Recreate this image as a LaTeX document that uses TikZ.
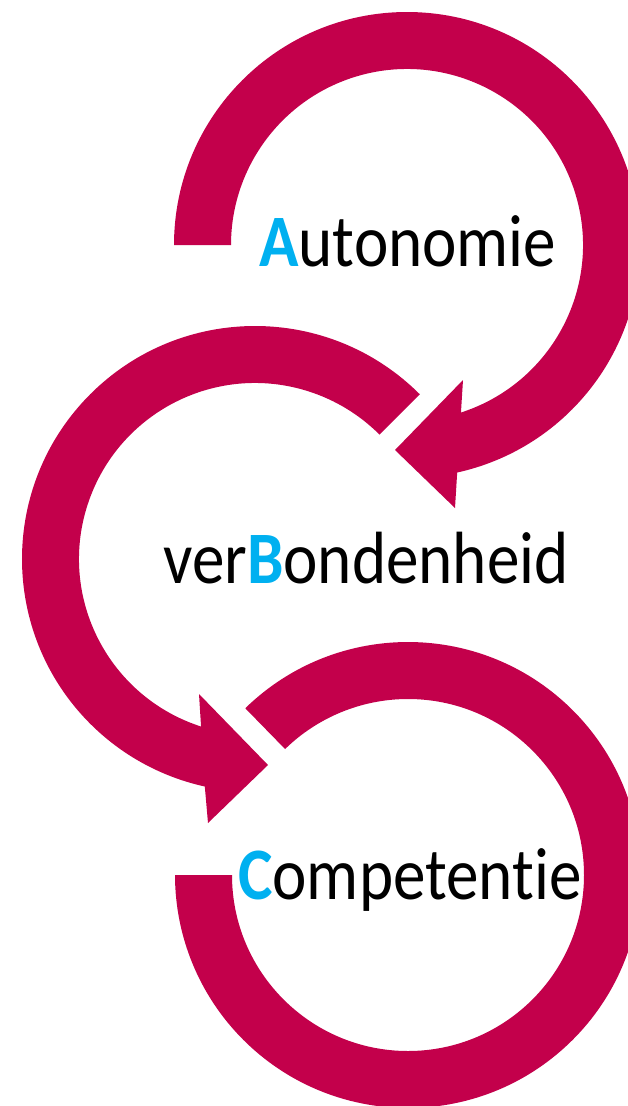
\documentclass[tikz,border=0pt]{standalone}
\usepackage{fontspec}
\setmainfont{Carlito}
\newfontfamily\wordfont{Carlito}[FakeStretch=0.88,RawFeature={-liga}]
\definecolor{crim}{HTML}{C3004B}
\definecolor{cyanb}{HTML}{00B0F0}
\begin{document}
\begin{tikzpicture}[x=1pt,y=1pt,
  band/.style={fill=crim,draw=none},
  word/.style={anchor=base west,inner sep=0pt,font=\wordfont\fontsize{74}{80}\selectfont,text=black}]
\useasboundingbox (0,0) rectangle (628,-1106);
\clip (0,0) rectangle (628,-1106);
% A arrow
\begin{scope}[shift={(407,-245)}]
\fill[band] (180:233) arc[start angle=180,end angle=-77.56,radius=233pt]
  -- (48,-263) -- (-12,-205) -- (56,-135)
  -- (-72.15:176) arc[start angle=-72.15,end angle=180,radius=176pt] -- cycle;
\end{scope}
% B arrow
\begin{scope}[shift={(255,-559)}]
\fill[band] (45:233) arc[start angle=45,end angle=257.56,radius=233pt]
  -- (-47,-264) -- (13,-206) -- (-56,-135)
  -- (252.15:176) arc[start angle=252.15,end angle=45,radius=176pt] -- cycle;
\end{scope}
% C arc
\begin{scope}[shift={(408,-875)}]
\fill[band] (134.3:233) arc[start angle=134.3,end angle=-180,radius=233pt]
  -- (-180:176) arc[start angle=-180,end angle=134.3,radius=176pt] -- cycle;
\end{scope}
\node[word] (a) at (259,-266) {\textcolor{cyanb}{\textbf{A}}utonomie};
\node[word] (b) at (163,-583) {ver\textcolor{cyanb}{\textbf{B}}ondenheid};
\node[word] (c) at (238,-899) {\textcolor{cyanb}{\textbf{C}}ompetentie};
\end{tikzpicture}
\end{document}
